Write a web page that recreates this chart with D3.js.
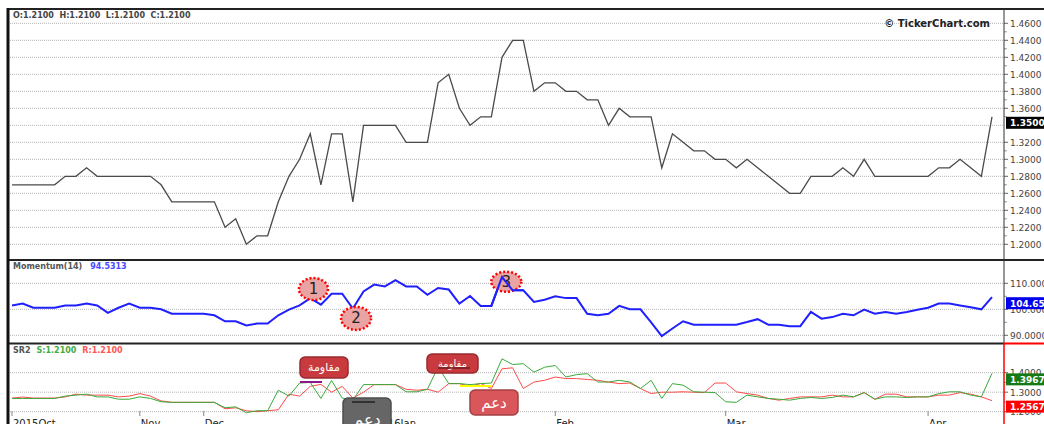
<!DOCTYPE html>
<html>
<head>
<meta charset="utf-8">
<script src="https://cdn.jsdelivr.net/npm/d3@7"></script>
<style>
body{margin:0;background:#fff;overflow:hidden}
svg{display:block;font-family:"DejaVu Sans",Verdana,sans-serif}
</style>
</head>
<body>
<div id="chart"></div>
<script>
// closing price, one value per trading session
var price = [1.27,1.27,1.27,1.27,1.27,1.28,1.28,1.29,1.28,1.28,1.28,1.28,1.28,1.28,1.27,1.25,1.25,1.25,1.25,1.25,
  1.22,1.23,1.20,1.21,1.21,1.25,1.28,1.30,1.33,1.27,1.33,1.33,1.25,1.34,1.34,1.34,1.34,1.32,1.32,1.32,
  1.39,1.40,1.36,1.34,1.35,1.35,1.42,1.44,1.44,1.38,1.39,1.39,1.38,1.38,1.37,1.37,1.34,1.36,1.35,1.35,
  1.35,1.29,1.33,1.32,1.31,1.31,1.30,1.30,1.29,1.30,1.29,1.28,1.27,1.26,1.26,1.28,1.28,1.28,1.29,1.28,
  1.30,1.28,1.28,1.28,1.28,1.28,1.28,1.29,1.29,1.30,1.29,1.28,1.35];

var momentum = [101.5,102.2,100.6,100.6,100.6,101.5,101.5,102.2,101.5,98.6,100.6,102.2,100.6,100.6,100,98.3,98.3,98.3,98.3,97.7,
  95.4,95.4,93.8,94.5,94.5,97.7,99.9,101.5,104.3,101.8,106,106,100.3,106.9,109.5,108.8,111.2,108.8,108.8,105.6,
  108.2,107.6,102.2,105.1,101.3,101.3,112.4,107.3,107.3,102.8,103.7,105,104.3,104.3,98.3,97.7,98.3,101.3,100,100,
  95,89.7,92.6,95.4,94.1,94.1,94.1,94.1,94.1,95.1,96.2,94.1,94.1,93.5,93.5,99,96.4,97,98.3,97.7,
  99.9,98.3,99,98.3,99,99.8,100.6,102.2,102.2,101.5,100.8,100,104.65];

// SR2 support (green) and resistance (red)
var support = [1.268,1.268,1.268,1.268,1.268,1.28,1.285,1.29,1.276,1.276,1.264,1.264,1.276,1.268,1.251,1.248,1.248,1.248,1.248,1.248,
  1.22,1.225,1.195,1.205,1.205,1.31,1.28,1.347,1.35,1.268,1.36,1.27,1.26,1.339,1.339,1.339,1.339,1.302,1.302,1.315,
  1.43,1.344,1.344,1.339,1.344,1.347,1.471,1.442,1.446,1.403,1.428,1.437,1.378,1.39,1.395,1.352,1.352,1.361,1.352,1.319,
  1.361,1.268,1.344,1.336,1.302,1.30,1.298,1.251,1.248,1.285,1.276,1.268,1.264,1.259,1.268,1.273,1.268,1.273,1.285,1.276,
  1.298,1.264,1.276,1.276,1.273,1.276,1.276,1.293,1.302,1.302,1.285,1.276,1.3967];

var resistance = [1.27,1.275,1.27,1.27,1.27,1.276,1.29,1.285,1.285,1.285,1.276,1.28,1.293,1.28,1.255,1.248,1.248,1.248,1.248,1.248,
  1.215,1.22,1.205,1.20,1.205,1.21,1.29,1.28,1.33,1.34,1.30,1.33,1.27,1.30,1.339,1.339,1.339,1.315,1.31,1.315,
  1.30,1.344,1.344,1.33,1.345,1.319,1.42,1.425,1.319,1.352,1.361,1.378,1.37,1.37,1.365,1.361,1.352,1.344,1.347,1.319,
  1.293,1.30,1.30,1.302,1.30,1.298,1.347,1.347,1.302,1.293,1.285,1.268,1.259,1.268,1.276,1.276,1.276,1.285,1.276,1.276,
  1.298,1.264,1.29,1.29,1.276,1.276,1.276,1.285,1.285,1.298,1.29,1.276,1.2567];

var monthIndex = [0,12,18,34,51,67,86];
var monthLabels = ["2015Oct","Nov","Dec","2016Jan","Feb","Mar","Apr"];
var priceTicks = [1.46,1.44,1.42,1.40,1.38,1.36,1.34,1.32,1.30,1.28,1.26,1.24,1.22,1.20];
var momTicks = [110,100,90];
var srTicks = [1.4,1.3,1.2];

var W = 1044, H = 424, plotL = 8, plotR = 1004;

var svg = d3.select("#chart").append("svg").attr("width", W).attr("height", H);

var x = d3.scaleLinear().domain([0, price.length - 1]).range([12, 992]);

var yP = d3.scaleLinear().domain([1.20, 1.46]).range([244.3, 23.3]);
var yM = d3.scaleLinear().domain([90, 110]).range([335.3, 283.3]);
var yS = d3.scaleLinear().domain([1.2, 1.4]).range([411.7, 372.7]);

// panels top / bottom
var panels = [
	{id: "p1", top: 9, bottom: 260},
	{id: "p2", top: 261, bottom: 343},
	{id: "p3", top: 344, bottom: 424}
];
var defs = svg.append("defs");
panels.forEach(function(p){
	defs.append("clipPath").attr("id", "clip-" + p.id)
		.append("rect").attr("x", plotL + 2).attr("y", p.top).attr("width", plotR - plotL - 2).attr("height", p.bottom - p.top);
});

function grid(ticks, scale){
	svg.append("g").selectAll("line").data(ticks).enter().append("line")
		.attr("x1", plotL + 2).attr("x2", plotR)
		.attr("y1", d => scale(d)).attr("y2", d => scale(d))
		.attr("stroke", "#b4b4b4").attr("stroke-width", 1).attr("stroke-dasharray", "1,1");
}
grid(priceTicks, yP);
grid(momTicks, yM);
grid(srTicks, yS);

// right axes
function rightAxis(ticks, scale, fmt, minorStep){
	var g = svg.append("g");
	g.selectAll("text").data(ticks).enter().append("text")
		.attr("x", 1010).attr("y", d => scale(d) + 3.5)
		.attr("font-size", "9px").attr("fill", "#444")
		.text(fmt);
	g.selectAll("line.mj").data(ticks).enter().append("line")
		.attr("x1", plotR).attr("x2", plotR + 4)
		.attr("y1", d => scale(d)).attr("y2", d => scale(d))
		.attr("stroke", "#666");
	var mn = ticks.slice(0, -1).map(d => d - minorStep);
	g.selectAll("line.mn").data(mn).enter().append("line")
		.attr("x1", plotR).attr("x2", plotR + 3)
		.attr("y1", d => scale(d)).attr("y2", d => scale(d))
		.attr("stroke", "#999");
}
rightAxis(priceTicks.filter(d => Math.abs(d - 1.34) > 0.001), yP, d3.format(".4f"), 0.01);
rightAxis(momTicks, yM, d3.format(".4f"), 5);
rightAxis(srTicks, yS, d3.format(".4f"), 0.05);

// lines
var linePrice = d3.line().x((d, i) => x(i)).y(d => yP(d));
svg.append("path").datum(price).attr("clip-path", "url(#clip-p1)")
	.attr("d", linePrice).attr("fill", "none").attr("stroke", "#4a4a4a").attr("stroke-width", 1.3);

var lineMom = d3.line().x((d, i) => x(i)).y(d => yM(d));
svg.append("path").datum(momentum).attr("clip-path", "url(#clip-p2)")
	.attr("d", lineMom).attr("fill", "none").attr("stroke", "#2020ff").attr("stroke-width", 2);

var lineSR = d3.line().x((d, i) => x(i)).y(d => yS(d));
svg.append("path").datum(resistance).attr("clip-path", "url(#clip-p3)")
	.attr("d", lineSR).attr("fill", "none").attr("stroke", "#ff4a4a").attr("stroke-width", 1);
svg.append("path").datum(support).attr("clip-path", "url(#clip-p3)")
	.attr("d", lineSR).attr("fill", "none").attr("stroke", "#3aaa3a").attr("stroke-width", 1);

// borders
svg.append("line").attr("x1", plotL).attr("x2", W).attr("y1", 9).attr("y2", 9).attr("stroke", "#222").attr("stroke-width", 2);
svg.append("line").attr("x1", plotL).attr("x2", W).attr("y1", 260).attr("y2", 260).attr("stroke", "#222").attr("stroke-width", 2);
svg.append("line").attr("x1", plotL).attr("x2", plotR).attr("y1", 343.5).attr("y2", 343.5).attr("stroke", "#222").attr("stroke-width", 2);
svg.append("line").attr("x1", plotL).attr("x2", plotL).attr("y1", 8).attr("y2", H).attr("stroke", "#111").attr("stroke-width", 3);
svg.append("line").attr("x1", plotR).attr("x2", plotR).attr("y1", 9).attr("y2", 343).attr("stroke", "#333").attr("stroke-width", 1);
svg.append("line").attr("x1", plotR).attr("x2", plotR).attr("y1", 343).attr("y2", H).attr("stroke", "#ff0000").attr("stroke-width", 1.5);
svg.append("line").attr("x1", plotR).attr("x2", W).attr("y1", 343.5).attr("y2", 343.5).attr("stroke", "#ff0000").attr("stroke-width", 2);

// x axis (months)
var xa = svg.append("g");
xa.selectAll("line").data(monthIndex).enter().append("line")
	.attr("x1", d => x(d)).attr("x2", d => x(d)).attr("y1", 411).attr("y2", 416)
	.attr("stroke", "#888");
xa.selectAll("text").data(monthIndex).enter().append("text")
	.attr("x", d => x(d) + 1).attr("y", 426.5)
	.attr("font-size", "10px").attr("fill", "#222")
	.text((d, i) => monthLabels[i]);

// value boxes on the right
function valueBox(y, label, fill){
	svg.append("rect").attr("x", 1006).attr("y", y).attr("width", 40).attr("height", 12).attr("fill", fill);
	svg.append("text").attr("x", 1010).attr("y", y + 9.5).attr("font-size", "9px").attr("font-weight", "bold")
		.attr("fill", "#fff").text(label);
}
valueBox(yP(price[price.length - 1]), "1.3500", "#000");
valueBox(yM(momentum[momentum.length - 1]), "104.651", "#0000ee");
valueBox(yS(support[support.length - 1]), "1.3967", "#157a15");
valueBox(yS(resistance[resistance.length - 1]), "1.2567", "#ff0000");

// header texts
svg.append("text").attr("x", 13).attr("y", 18).attr("font-size", "8px").attr("font-weight", "bold").attr("fill", "#444")
	.text("O:1.2100  H:1.2100  L:1.2100  C:1.2100").attr("xml:space", "preserve");
svg.append("text").attr("x", 990).attr("y", 27).attr("text-anchor", "end").attr("font-size", "10px").attr("font-weight", "bold").attr("fill", "#222")
	.text("© TickerChart.com");

var t2 = svg.append("text").attr("x", 13).attr("y", 269).attr("font-size", "8px").attr("font-weight", "bold");
t2.append("tspan").attr("fill", "#555").text("Momentum(14)");
t2.append("tspan").attr("fill", "#4a4aff").attr("dx", 8).text("94.5313");

var t3 = svg.append("text").attr("x", 13).attr("y", 353).attr("font-size", "8px").attr("font-weight", "bold");
t3.append("tspan").attr("fill", "#555").text("SR2");
t3.append("tspan").attr("fill", "#44aa44").attr("dx", 6).text("S:1.2100");
t3.append("tspan").attr("fill", "#ff5555").attr("dx", 6).text("R:1.2100");

// numbered markers on momentum
var markers = [
	{label: "1", i: 28.3, v: 107.8, rx: 14.5, ry: 11},
	{label: "2", i: 32.3, v: 96.5, rx: 15, ry: 11.5},
	{label: "3", i: 46.4, v: 110.6, rx: 15, ry: 10}
];
var mg = svg.append("g").selectAll("g").data(markers).enter().append("g");
mg.append("ellipse").attr("cx", d => x(d.i)).attr("cy", d => yM(d.v)).attr("rx", d => d.rx).attr("ry", d => d.ry)
	.attr("fill", "#e9a3a3").attr("stroke", "#ff0000").attr("stroke-width", 2.5).attr("stroke-dasharray", "2,2");
mg.append("text").attr("x", d => x(d.i)).attr("y", d => yM(d.v) + 5).attr("text-anchor", "middle")
	.attr("font-size", "15px").attr("fill", "#222").text(d => d.label);
// momentum line goes over marker 3
svg.append("path").datum(momentum.slice(44, 49)).attr("d", d3.line().x((d, i) => x(i + 44)).y(d => yM(d)))
	.attr("fill", "none").attr("stroke", "#2020ff").attr("stroke-width", 2);

// SR annotations
var notes = [
	{text: "مقاومة", x: 300, y: 357, w: 48, h: 21, fill: "#c83a3e", fs: 11},
	{text: "مقاومة", x: 427, y: 354, w: 51, h: 19, fill: "#c83a3e", fs: 10},
	{text: "دعم", x: 470, y: 390, w: 48, h: 25, fill: "#d9565a", fs: 15},
	{text: "دعم", x: 343, y: 398, w: 48, h: 34, fill: "#666", fs: 16}
];
var ng = svg.append("g").selectAll("g").data(notes).enter().append("g");
ng.append("rect").attr("x", d => d.x).attr("y", d => d.y).attr("width", d => d.w).attr("height", d => d.h)
	.attr("rx", 5).attr("fill", d => d.fill).attr("stroke", d => d3.color(d.fill).darker(0.8)).attr("stroke-width", 1.5);
ng.append("text").attr("x", d => d.x + d.w / 2).attr("y", (d, i) => i == 3 ? d.y + 27 : d.y + d.h / 2 + d.fs * 0.35)
	.attr("text-anchor", "middle").attr("font-family", "'Noto Sans','DejaVu Sans',sans-serif")
	.attr("font-size", d => d.fs + "px").attr("fill", "#fff").text(d => d.text);

svg.append("line").attr("x1", 300).attr("x2", 322).attr("y1", 382).attr("y2", 382).attr("stroke", "#8a1a8a").attr("stroke-width", 2);
svg.append("line").attr("x1", 438).attr("x2", 470).attr("y1", 368).attr("y2", 368).attr("stroke", "#6a1f1f").attr("stroke-width", 1.5);
svg.append("line").attr("x1", 460).attr("x2", 492).attr("y1", 386).attr("y2", 386).attr("stroke", "#ffff00").attr("stroke-width", 2);
svg.append("line").attr("x1", 352).attr("x2", 375).attr("y1", 402).attr("y2", 402).attr("stroke", "#222").attr("stroke-width", 1.5);
</script>
</body>
</html>
